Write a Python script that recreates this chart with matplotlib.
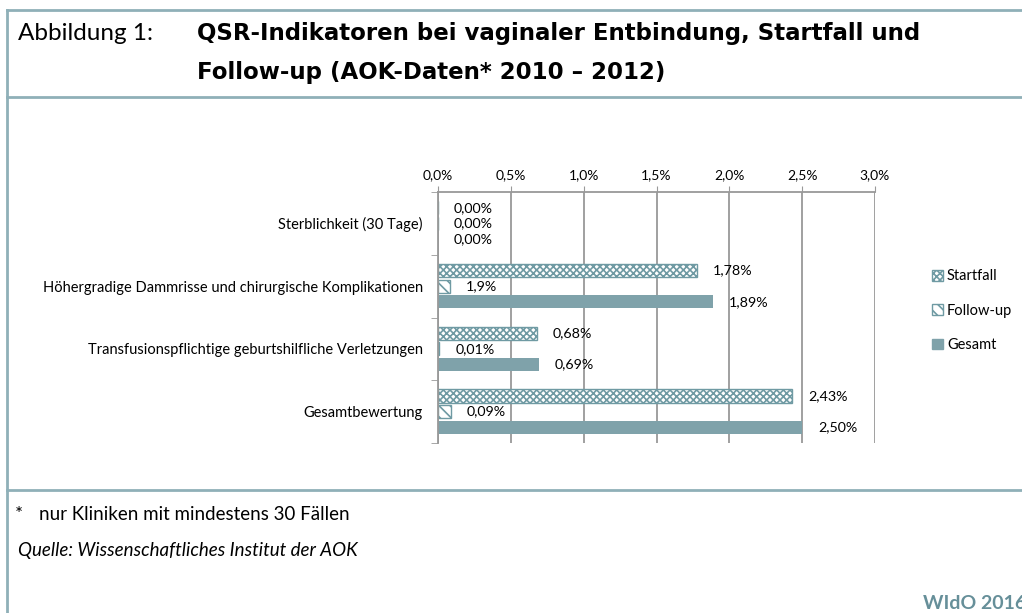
import matplotlib.pyplot as plt
import numpy as np
from matplotlib.lines import Line2D
from matplotlib.patches import Patch

# Daten
kategorien = ["Sterblichkeit (30 Tage)",
              "Höhergradige Dammrisse und chirurgische Komplikationen",
              "Transfusionspflichtige geburtshilfliche Verletzungen",
              "Gesamtbewertung"]
startfall = [0.00, 1.78, 0.68, 2.43]
follow_up = [0.00, 0.08, 0.01, 0.09]
gesamt = [0.00, 1.89, 0.69, 2.50]
startfall_lbl = ["0,00%", "1,78%", "0,68%", "2,43%"]
follow_up_lbl = ["0,00%", "1,9%", "0,01%", "0,09%"]
gesamt_lbl = ["0,00%", "1,89%", "0,69%", "2,50%"]
x_ticks = [0.0, 0.5, 1.0, 1.5, 2.0, 2.5, 3.0]
x_tick_lbl = ["0,0%", "0,5%", "1,0%", "1,5%", "2,0%", "2,5%", "3,0%"]

teal = "#6f9aa3"
gesamt_col = "#7fa2aa"
rahmen = "#8fb0b8"

plt.rcParams['font.family'] = ['Lato', 'DejaVu Sans']
plt.rcParams['hatch.linewidth'] = 1.2

fig = plt.figure(figsize=(10.22, 6.13), dpi=100)
ax = fig.add_axes([438/1022, 1-443/613, 437/1022, 251/613])

y = np.arange(len(kategorien))
h = 0.21
off = 0.25
ax.barh(y - off, startfall, height=h, color="white", edgecolor=teal, hatch="xxxxx", linewidth=1)
ax.barh(y, follow_up, height=h, color="white", edgecolor=teal, hatch="\\\\\\", linewidth=1)
ax.barh(y + off, gesamt, height=h, color=gesamt_col, edgecolor=gesamt_col, linewidth=0)

# Beschriftungen der Balken
for vals, lbls, d in [(startfall, startfall_lbl, -off), (follow_up, follow_up_lbl, 0), (gesamt, gesamt_lbl, off)]:
    for i, (v, t) in enumerate(zip(vals, lbls)):
        ax.annotate(t, (v, i + d), xytext=(11.5, 0), textcoords="offset points",
                    va="center", ha="left", fontsize=10.3)

ax.set_xlim(0, 3.0)
ax.set_ylim(3.5, -0.5)
ax.xaxis.tick_top()
ax.set_xticks(x_ticks)
ax.set_xticklabels(x_tick_lbl, fontsize=10)
ax.tick_params(axis="x", length=4, color="#999999", pad=4)
ax.set_yticks(y)
ax.set_yticklabels(kategorien, fontsize=10.5)
ax.tick_params(axis="y", length=0, pad=11)
ax.set_yticks(np.arange(-0.5, 4, 1), minor=True)
ax.tick_params(axis="y", which="minor", length=5, color="#999999")
ax.grid(axis="x", color="#999999", linewidth=1.3)
ax.set_axisbelow(True)
for s in ["bottom", "right"]:
    ax.spines[s].set_visible(False)
for s in ["top", "left"]:
    ax.spines[s].set_color("#999999")
    ax.spines[s].set_linewidth(1.3)

# Legende
handles = [Patch(facecolor="white", edgecolor=teal, hatch="xxxxx", label="Startfall"),
           Patch(facecolor="white", edgecolor=teal, hatch="\\\\\\", label="Follow-up"),
           Patch(facecolor=gesamt_col, edgecolor=gesamt_col, label="Gesamt")]
fig.legend(handles=handles, loc="upper left", bbox_to_anchor=(925/1022, 1-262/613),
           frameon=False, fontsize=10.5, handlelength=0.75, handleheight=0.75,
           handletextpad=0.25, labelspacing=1.4, borderpad=0)

# Rahmenlinien
for yy in [10, 97, 490]:
    fig.add_artist(Line2D([7/1022, 1], [1-yy/613]*2, color=rahmen, lw=2))
fig.add_artist(Line2D([7/1022]*2, [0, 1-10/613], color=rahmen, lw=2))

# Titel
fig.text(18/1022, 1-40/613, "Abbildung 1:", fontsize=17.5, va="baseline")
fig.text(197/1022, 1-40/613, "QSR-Indikatoren bei vaginaler Entbindung, Startfall und",
         fontsize=16.5, va="baseline", fontweight="bold", family="DejaVu Sans")
fig.text(197/1022, 1-79/613, "Follow-up (AOK-Daten* 2010 – 2012)",
         fontsize=16.5, va="baseline", fontweight="bold", family="DejaVu Sans")

# Fußnoten
fig.text(15/1022, 1-520/613, "*", fontsize=13.5, va="baseline")
fig.text(39/1022, 1-520/613, "nur Kliniken mit mindestens 30 Fällen", fontsize=13.5, va="baseline")
fig.text(18/1022, 1-556/613, "Quelle: Wissenschaftliches Institut der AOK", fontsize=13.5,
         va="baseline", style="italic")
fig.text(923/1022, 1-609/613, "WIdO 2016", fontsize=14, va="baseline", fontweight="bold",
         color="#668f99")

fig.savefig("out.png", dpi=100)
